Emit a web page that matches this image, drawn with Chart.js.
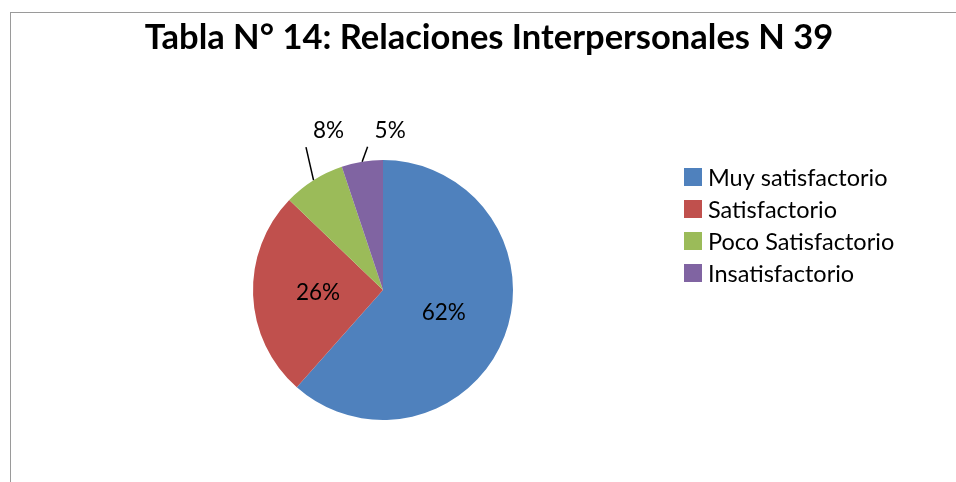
<!DOCTYPE html>
<html>
<head>
<meta charset="utf-8">
<script src="https://cdn.jsdelivr.net/npm/chart.js@4/dist/chart.umd.min.js"></script>
<style>
    html, body { margin: 0; padding: 0; background: #fff; }
    #wrap { position: relative; width: 956px; height: 482px; }
    #frame { position: absolute; left: 10px; top: 12px; right: 0; bottom: 0; border-left: 1px solid #9a9a9a; border-top: 1px solid #9a9a9a; }
</style>
</head>
<body>
<div id="wrap">
    <div id="frame"></div>
    <canvas id="pieChart" width="956" height="482"></canvas>
</div>
<script>
const chartTitle = 'Tabla N° 14: Relaciones Interpersonales N 39';
const categories = ['Muy satisfactorio', 'Satisfactorio', 'Poco Satisfactorio', 'Insatisfactorio'];
const counts = [24, 10, 3, 2];
const percentLabels = ['62%', '26%', '8%', '5%'];

const colors = ['#4F81BD', '#C0504D', '#9BBB59', '#8064A2'];
// label placement: inside slices, or outside with a leader line (offset from the arc edge)
const labelPlacement = [
    { inside: true, r: 0.5 },
    { inside: true, r: 0.5 },
    { inside: false, dx: 15, dy: -49 },
    { inside: false, dx: 28, dy: -31 }
];

const FONT = 'Lato, "Open Sans", sans-serif';

const overlayPlugin = {
    id: 'overlay',
    afterDraw(chart) {
        const ctx = chart.ctx;
        const meta = chart.getDatasetMeta(0);

        // title
        ctx.save();
        ctx.fillStyle = '#000';
        ctx.font = `bold 34.5px ${FONT}`;
        ctx.textAlign = 'center';
        ctx.textBaseline = 'alphabetic';
        ctx.fillText(chartTitle, 489, 49);
        ctx.restore();

        // data labels
        ctx.save();
        ctx.font = `22.5px ${FONT}`;
        ctx.fillStyle = '#000';
        ctx.textAlign = 'center';
        ctx.textBaseline = 'middle';
        meta.data.forEach((arc, i) => {
            const p = arc.getProps(['x', 'y', 'startAngle', 'endAngle', 'outerRadius'], true);
            const mid = (p.startAngle + p.endAngle) / 2;
            const place = labelPlacement[i];
            const text = percentLabels[i];
            if (place.inside) {
                const r = p.outerRadius * place.r;
                ctx.fillText(text, p.x + Math.cos(mid) * r, p.y + Math.sin(mid) * r);
            } else {
                const ex = p.x + Math.cos(mid) * p.outerRadius;
                const ey = p.y + Math.sin(mid) * p.outerRadius;
                const lx = ex + place.dx;
                const ly = ey + place.dy;
                const w = ctx.measureText(text).width;
                ctx.fillText(text, lx, ly);
                ctx.beginPath();
                ctx.strokeStyle = '#000';
                ctx.lineWidth = 1.5;
                ctx.moveTo(ex, ey);
                ctx.lineTo(lx - w / 2 - 7, ly + 16);
                ctx.stroke();
            }
        });
        ctx.restore();

        // legend
        ctx.save();
        ctx.font = `23.5px ${FONT}`;
        ctx.textAlign = 'left';
        ctx.textBaseline = 'middle';
        categories.forEach((name, i) => {
            const y = 168 + i * 32;
            ctx.fillStyle = colors[i];
            ctx.fillRect(684, y, 18, 18);
            ctx.fillStyle = '#000';
            ctx.fillText(name, 708, y + 10);
        });
        ctx.restore();
    }
};

new Chart(document.getElementById('pieChart').getContext('2d'), {
    type: 'pie',
    data: {
        labels: categories,
        datasets: [{
            data: counts,
            backgroundColor: colors,
            borderWidth: 0
        }]
    },
    options: {
        responsive: false,
        animation: false,
        layout: { padding: { top: 160, bottom: 62, left: 253, right: 443 } },
        plugins: {
            legend: { display: false },
            title: { display: false },
            tooltip: { enabled: false }
        }
    },
    plugins: [overlayPlugin]
});
</script>
</body>
</html>
